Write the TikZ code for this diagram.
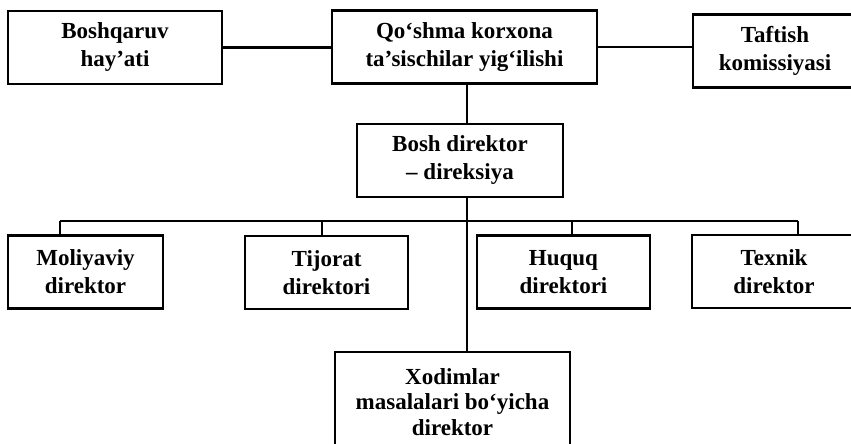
\documentclass[tikz,border=0pt]{standalone}
\usepackage{fontspec}
\setmainfont{Liberation Serif}

\begin{document}
\begin{tikzpicture}[x=1pt, y=-1pt,
        box/.style={draw, line width=2.2pt, align=center, inner sep=0pt,
            font=\bfseries\fontsize{23}{28}\selectfont, minimum height=73pt},
        link/.style={line width=2.2pt}]
        \useasboundingbox (0, 0) rectangle (851, 444);
        \clip (0, 0) rectangle (851, 444);

        \node[box, minimum width=214pt] (boshq) at (115, 47.5) {Boshqaruv\\hay’ati};
        \node[box, minimum width=265pt] (qoshma) at (464.5, 47) {Qo‘shma korxona\\ta’sischilar yig‘ilishi};
        \node[box, minimum width=164pt] (taftish) at (775, 51) {Taftish\\komissiyasi};
        \node[box, minimum width=206pt] (bosh) at (460, 160.5) {Bosh direktor\\– direksiya};

        \node[box, minimum width=155pt] (moliya) at (85.5, 272) {Moliyaviy\\direktor};
        \node[box, minimum width=163pt] (tijorat) at (326.5, 272.5) {Tijorat\\direktori};
        \node[box, minimum width=173pt] (huquq) at (563.5, 272) {Huquq\\direktori};
        \node[box, minimum width=164pt] (texnik) at (774, 271.5) {Texnik\\direktor};
        \node[box, minimum width=235pt, minimum height=100pt,
            font=\bfseries\fontsize{23}{25.5}\selectfont] (xodim) at (452.5, 402)
            {Xodimlar\\masalalari bo‘yicha\\direktor};

        \coordinate (spine) at (467, 0);
        \coordinate (bus1) at (60, 221);
        \coordinate (bus2) at (322, 221);
        \coordinate (bus3) at (572, 221);
        \coordinate (bus4) at (798, 221);

        \draw[link] (boshq.east) -- (boshq.east -| qoshma.west);
        \draw[link] (qoshma.east) -- (qoshma.east -| taftish.west);
        \draw[link] (qoshma.south -| spine) -- (bosh.north -| spine);
        \draw[link] (bosh.south -| spine) -- (xodim.north -| spine);
        \draw[link] (bus1) -- (bus4);
        \foreach \b/\n in {bus1/moliya, bus2/tijorat, bus3/huquq, bus4/texnik}
            \draw[link] (\b) -- (\b |- \n.north);
    \end{tikzpicture}
\end{document}
